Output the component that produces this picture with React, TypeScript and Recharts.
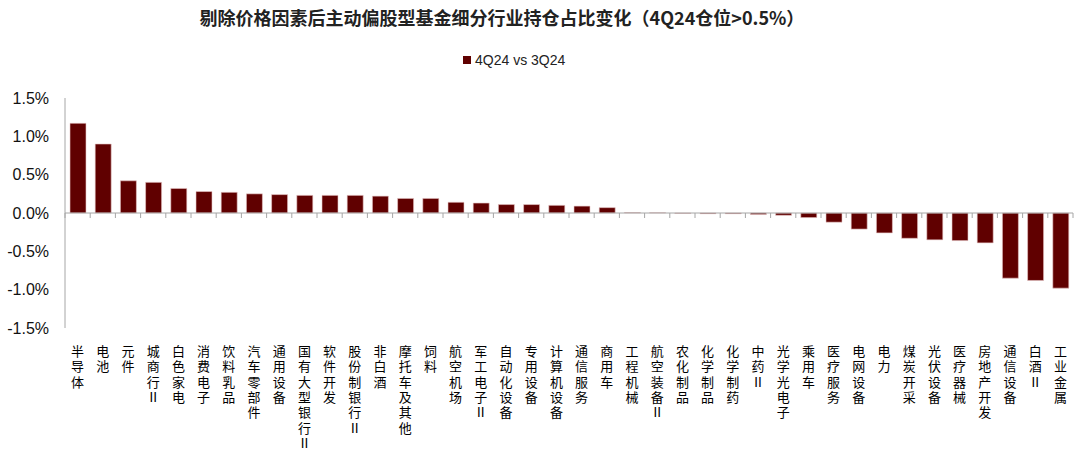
import { BarChart, Bar, XAxis, YAxis, ReferenceLine } from "recharts"

const industries = [
  "半导体", "电池", "元件", "城商行Ⅱ", "白色家电", "消费电子", "饮料乳品", "汽车零部件",
  "通用设备", "国有大型银行Ⅱ", "软件开发", "股份制银行Ⅱ", "非白酒", "摩托车及其他", "饲料",
  "航空机场", "军工电子Ⅱ", "自动化设备", "专用设备", "计算机设备", "通信服务", "商用车",
  "工程机械", "航空装备Ⅱ", "农化制品", "化学制品", "化学制药", "中药Ⅱ", "光学光电子",
  "乘用车", "医疗服务", "电网设备", "电力", "煤炭开采", "光伏设备", "医疗器械",
  "房地产开发", "通信设备", "白酒Ⅱ", "工业金属",
]

const change4Q24 = [
  1.17, 0.9, 0.42, 0.4, 0.32, 0.28, 0.27, 0.25, 0.24, 0.23, 0.23, 0.23, 0.22, 0.19, 0.19,
  0.14, 0.13, 0.11, 0.11, 0.1, 0.09, 0.07, 0.005, 0.003, -0.005, -0.01, -0.01, -0.02, -0.03,
  -0.06, -0.12, -0.21, -0.26, -0.33, -0.35, -0.36, -0.39, -0.85, -0.88, -0.98,
]

const yTicks = [-1.5, -1, -0.5, 0, 0.5, 1, 1.5]

const seriesName = "4Q24 vs 3Q24"
const title = "剔除价格因素后主动偏股型基金细分行业持仓占比变化（4Q24仓位>0.5%）"

const data = industries.map((name, i) => ({ name, value: change4Q24[i] }))

// layout constants
const W = 1080
const H = 460
const TOP = 98
const BOTTOM_AXIS = 130
const LEFT = 65
const RIGHT = 7
const plotH = H - TOP - BOTTOM_AXIS - 2
const zeroY = TOP + plotH / 2
const step = (W - LEFT - RIGHT) / industries.length

const font = "'Liberation Sans', Arial, 'Noto Sans CJK SC', sans-serif"
const cjk = "'Noto Sans CJK SC', sans-serif"

// category label written top-to-bottom, one character per line
function VerticalTick(props: any) {
  const { x, payload, index } = props
  const chars = Array.from(String(payload.value))
  return (
    <g>
      <line x1={x - step / 2} x2={x - step / 2} y1={zeroY} y2={zeroY + 5} stroke="#a6a6a6" />
      {index === industries.length - 1 && (
        <line x1={x + step / 2} x2={x + step / 2} y1={zeroY} y2={zeroY + 5} stroke="#a6a6a6" />
      )}
      {chars.map((c, i) => (
        <text
          key={i}
          x={x}
          y={TOP + plotH + 28 + i * 15.3}
          textAnchor="middle"
          fontSize={13}
          fill="#000"
          fontFamily={cjk}
        >
          {c}
        </text>
      ))}
    </g>
  )
}

export default function App() {
  return (
    <div style={{ position: "absolute", left: 0, top: 0, width: W, height: H, background: "#fff" }}>
      <div
        style={{
          position: "absolute",
          left: 0,
          top: 4,
          width: 1004,
          textAlign: "center",
          fontFamily: cjk,
          fontWeight: "bold",
          fontSize: 18,
          color: "#222",
          whiteSpace: "nowrap",
        }}
      >
        {title}
      </div>
      <div
        style={{
          position: "absolute",
          left: 463,
          top: 52,
          display: "flex",
          alignItems: "center",
          fontFamily: font,
          fontSize: 14,
          color: "#222",
        }}
      >
        <span style={{ width: 8, height: 8, background: "#600000", display: "inline-block", marginRight: 4 }} />
        <span>{seriesName}</span>
      </div>
      <BarChart
        width={W}
        height={H}
        data={data}
        margin={{ top: TOP, right: RIGHT, bottom: 2, left: 0 }}
        barSize={16}
      >
        <YAxis
          width={LEFT}
          domain={[-1.5, 1.5]}
          ticks={yTicks}
          tickFormatter={(v: number) => `${v.toFixed(1)}%`}
          tick={{ fontSize: 16, fill: "#111", fontFamily: font }}
          axisLine={{ stroke: "#a6a6a6" }}
          tickLine={false}
          tickSize={0}
          tickMargin={16}
          allowDataOverflow
        />
        <XAxis
          dataKey="name"
          height={BOTTOM_AXIS}
          interval={0}
          axisLine={false}
          tickLine={false}
          tick={<VerticalTick />}
        />
        <ReferenceLine y={0} stroke="#a6a6a6" />
        <Bar
          dataKey="value"
          name={seriesName}
          fill="#600000"
          stroke="#e8c8c8"
          strokeWidth={0.6}
          isAnimationActive={false}
        />
      </BarChart>
    </div>
  )
}
